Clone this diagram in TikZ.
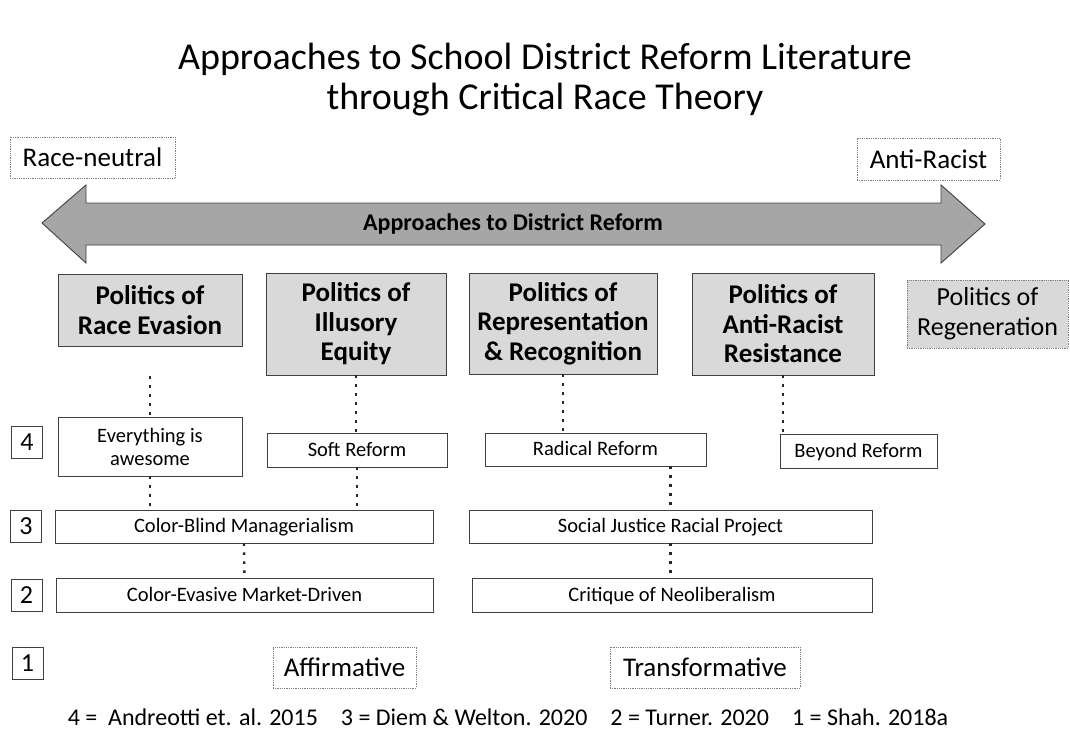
\documentclass[tikz,border=0pt]{standalone}
\usepackage{fontspec}
\setmainfont{Carlito}
\usepackage{xcolor}
\usepackage{tikz}
\usetikzlibrary{positioning}
\definecolor{arrowgray}{HTML}{A6A6A6}
\definecolor{boxgray}{HTML}{D9D9D9}
\definecolor{edgegray}{HTML}{404040}
\tikzset{
  politics/.style={draw=edgegray,line width=0.9pt,fill=boxgray,align=center,inner sep=2pt,
    font=\fontsize{27}{29.5}\selectfont\bfseries},
  level/.style={draw=edgegray,line width=0.9pt,fill=white,align=center,inner sep=2pt,
    font=\fontsize{20.5}{23}\selectfont},
  oneline/.style={level,text height=15pt,text depth=2.5pt},
  tag/.style={draw=edgegray,line width=0.9pt,fill=white,minimum width=31pt,minimum height=32pt,
    inner sep=0pt,font=\fontsize{26}{30}\selectfont},
  pole/.style={draw=gray,line width=0.8pt,densely dotted,fill=white,inner sep=2pt,
    font=\fontsize{27}{30}\selectfont},
  dotline/.style={line width=2.4pt,dash pattern=on 2.4pt off 6.6pt,black!85}
}
\begin{document}
\begin{tikzpicture}[x=1pt,y=-1pt]
  \useasboundingbox (0,0) rectangle (1070,730);

  % title
  \node[align=center,font=\fontsize{38}{40}\selectfont] (title) at (545,80)
    {Approaches to School District Reform Literature\\through Critical Race Theory};

  % ends of the scale
  \node[pole,minimum width=165pt,minimum height=41pt] (neutral) at (92.5,157.5) {Race-neutral};
  \node[pole,minimum width=143pt,minimum height=42pt] (antiracist) at (928.5,159) {Anti-Racist};

  % big double arrow
  \draw[draw=edgegray,line width=0.9pt,fill=arrowgray]
    (42,223) -- (86,185) -- (86,203) -- (941,203) -- (941,185) -- (985,224)
    -- (941,263) -- (941,245) -- (86,245) -- (86,263) -- cycle;
  \node[font=\fontsize{24}{28}\selectfont\bfseries] (scale) at (513,224) {Approaches to District Reform};

  % politics
  \node[politics,minimum width=184pt,minimum height=72pt] (evasion) at (150,310) {Politics of\\Race Evasion};
  \node[politics,minimum width=180pt,minimum height=102pt] (illusory) at (356,324) {Politics of\\Illusory\\Equity};
  \node[politics,minimum width=188pt,minimum height=101pt] (represent) at (563,323.5) {Politics of\\Representation\\\& Recognition};
  \node[politics,minimum width=182pt,minimum height=102pt] (resist) at (783,324) {Politics of\\Anti-Racist\\Resistance};
  \node[pole,fill=boxgray,minimum width=161pt,minimum height=68pt,align=center,
    font=\fontsize{26}{30}\selectfont] (regen) at (987.5,314) {Politics of\\Regeneration};

  % level 4
  \node[tag] (four) at (27,442.5) {4};
  \node[level,minimum width=184pt,minimum height=59pt] (awesome) at (150,446.5) {Everything is\\awesome};
  \node[oneline,minimum width=180pt,minimum height=34pt] (soft) at (357,450) {Soft Reform};
  \node[oneline,minimum width=221pt,minimum height=33pt] (radical) at (595.5,449.5) {Radical Reform};
  \node[oneline,minimum width=157pt,minimum height=34pt] (beyond) at (858.5,451) {Beyond Reform};

  % level 3
  \node[tag] (three) at (26,526.5) {3};
  \node[oneline,minimum width=378pt,minimum height=33pt] (blind) at (244,526.5) {Color-Blind Managerialism};
  \node[oneline,minimum width=403pt,minimum height=33pt] (justice) at (670.5,526.5) {Social Justice Racial Project};

  % level 2
  \node[tag] (two) at (26.5,595.5) {2};
  \node[oneline,minimum width=377pt,minimum height=34pt] (market) at (244.5,595) {Color-Evasive Market-Driven};
  \node[oneline,minimum width=400pt,minimum height=34pt] (neolib) at (672,595) {Critique of Neoliberalism};

  % level 1
  \node[tag] (one) at (27.5,663.5) {1};
  \node[pole,minimum width=143pt,minimum height=41pt] (affirm) at (344.5,667.5) {Affirmative};
  \node[pole,minimum width=190pt,minimum height=41pt] (transform) at (705,667.5) {Transformative};

  % dotted links
  \draw[dotline,shorten <=30pt] (evasion.south) -- (awesome.north);
  \draw[dotline] (awesome.south) -- (awesome.south |- blind.north);
  \draw[dotline] (illusory.south) -- (soft.north -| illusory.south);
  \draw[dotline] (soft.south) -- (soft.south |- blind.north);
  \draw[dotline] (blind.south) -- (market.north);
  \draw[dotline] (represent.south) -- (represent.south |- radical.north);
  \draw[dotline] (radical.south -| justice.north) -- (justice.north);
  \draw[dotline] (justice.south) -- (justice.south |- neolib.north);
  \draw[dotline] (resist.south) -- (resist.south |- beyond.north);

  % sources
  \node[font=\fontsize{24}{28}\selectfont] (sources) at (508,717)
    {4 =\ \ Andreotti et. al. 2015\hspace{23pt}3 = Diem \& Welton. 2020\hspace{23pt}2 = Turner. 2020\hspace{23pt}1 = Shah. 2018a};
\end{tikzpicture}
\end{document}
